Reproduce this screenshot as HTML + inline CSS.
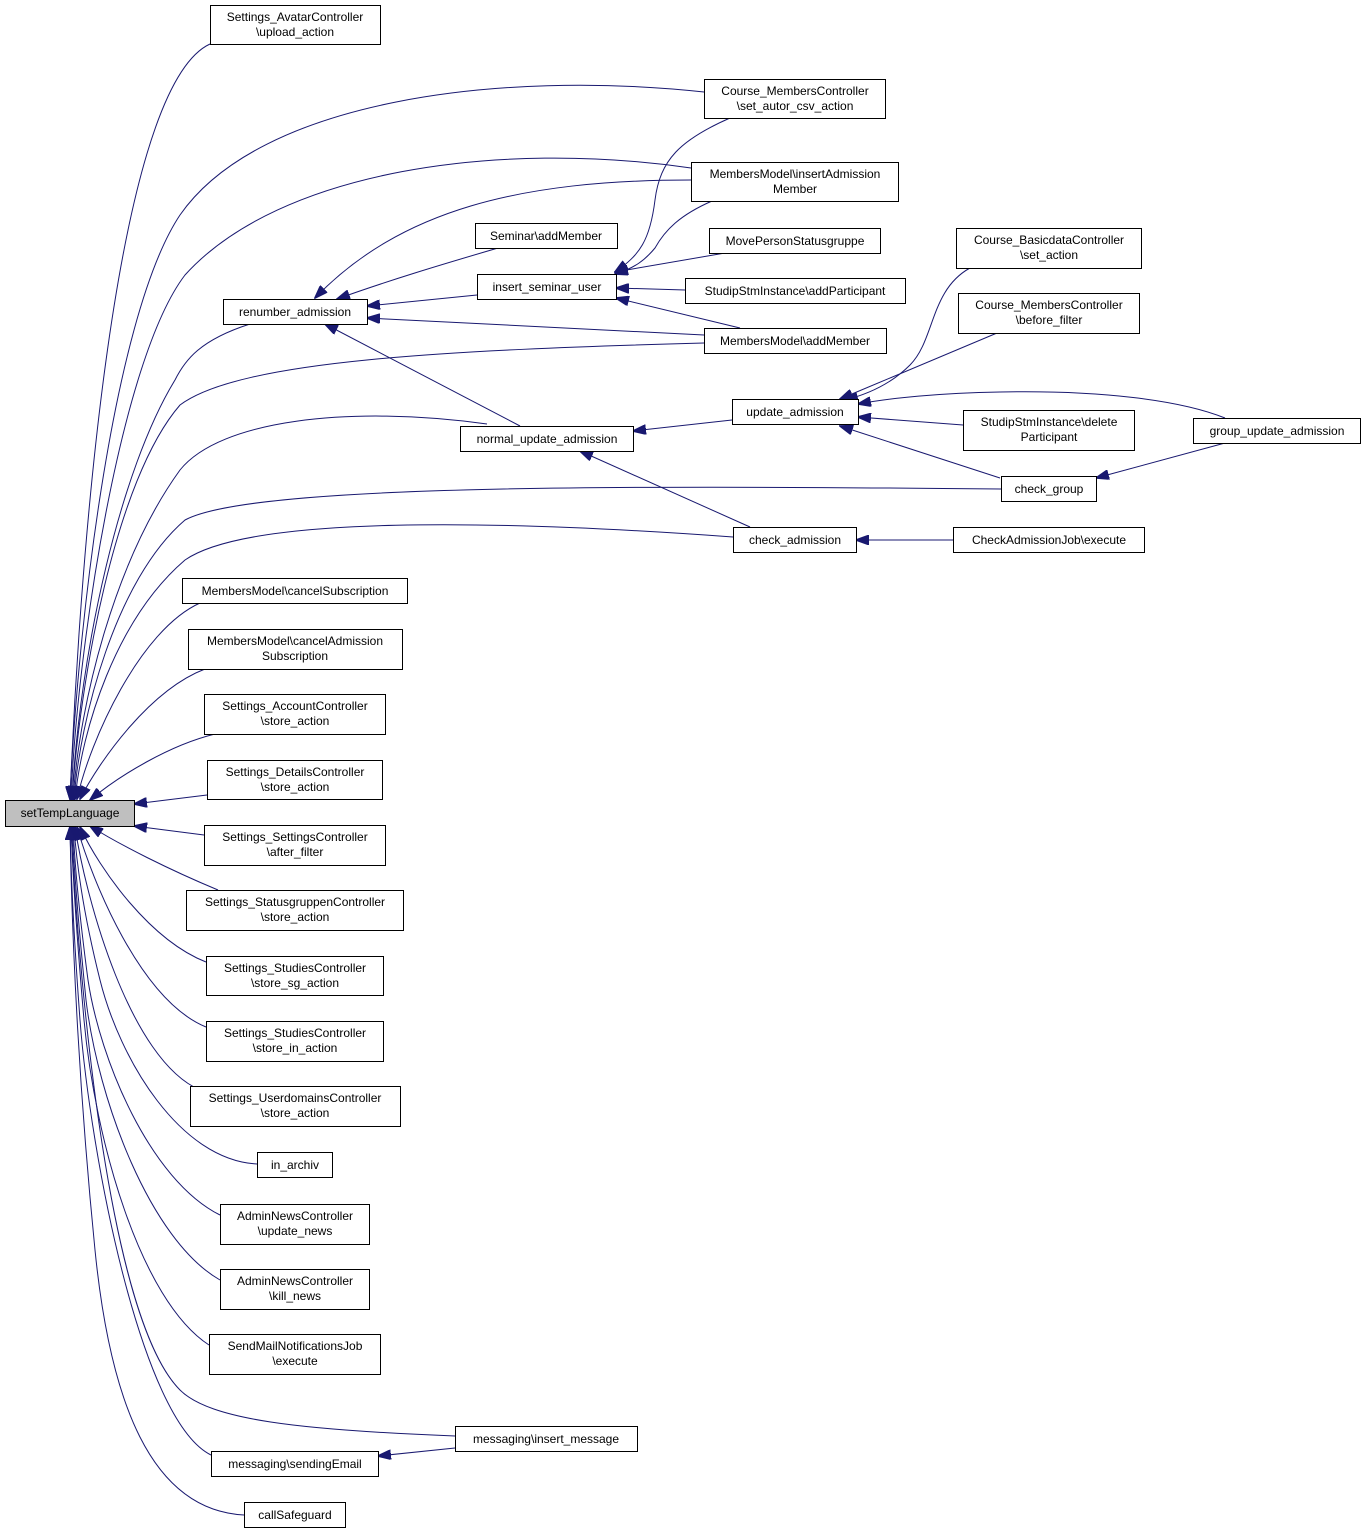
<!DOCTYPE html>
<html><head><meta charset="utf-8"><style>
html,body{margin:0;padding:0;background:#fff}
svg text{font-family:"Liberation Sans",sans-serif;font-size:12px;fill:#000}
rect.n{fill:#fff;stroke:#000;stroke-width:1}
path.e{fill:none;stroke:#191970;stroke-width:1}
</style></head><body>
<svg width="1365" height="1534" viewBox="0 0 1365 1534" xmlns="http://www.w3.org/2000/svg">
<defs><marker id="a" markerWidth="14" markerHeight="10" refX="13" refY="5" orient="auto" markerUnits="userSpaceOnUse"><path d="M0,0 L14,5 L0,10 z" fill="#191970" stroke="#191970"/></marker></defs>
<g>
<!-- edges to setTempLanguage top -->
<path class="e" marker-end="url(#a)" d="M210,44 C110,90 78,600 70,799"/>
<path class="e" marker-end="url(#a)" d="M704,92 C500,70 260,100 180,215 C110,320 76,650 70,799"/>
<path class="e" marker-end="url(#a)" d="M691,168 C500,140 280,170 185,275 C120,360 77,650 71,799"/>
<path class="e" marker-end="url(#a)" d="M250,324 C200,340 185,360 175,380 C120,470 80,650 72,799"/>
<path class="e" marker-end="url(#a)" d="M704,343 C450,350 240,360 180,405 C115,480 80,680 72,799"/>
<path class="e" marker-end="url(#a)" d="M487,424 C350,405 220,420 180,470 C115,560 80,700 73,799"/>
<path class="e" marker-end="url(#a)" d="M1001,489 C600,485 250,485 185,520 C115,580 80,720 74,799"/>
<path class="e" marker-end="url(#a)" d="M733,537 C500,520 250,515 185,560 C115,620 82,730 75,799"/>
<path class="e" marker-end="url(#a)" d="M200,603 C140,630 90,740 77,799"/>
<path class="e" marker-end="url(#a)" d="M205,669 C150,690 100,760 80,799"/>
<path class="e" marker-end="url(#a)" d="M215,734 C170,745 120,775 90,800"/>
<path class="e" marker-end="url(#a)" d="M207,795 L134,804"/>
<!-- below -->
<path class="e" marker-end="url(#a)" d="M204,835 L134,826"/>
<path class="e" marker-end="url(#a)" d="M218,890 C170,870 120,845 90,826"/>
<path class="e" marker-end="url(#a)" d="M206,962 C150,940 100,870 80,827"/>
<path class="e" marker-end="url(#a)" d="M206,1027 C140,1000 92,880 77,827"/>
<path class="e" marker-end="url(#a)" d="M200,1090 C130,1060 86,900 75,827"/>
<path class="e" marker-end="url(#a)" d="M257,1164 C180,1160 120,1060 100,980 C85,920 77,870 74,827"/>
<path class="e" marker-end="url(#a)" d="M220,1215 C150,1180 100,1060 88,980 C80,920 75,870 73,827"/>
<path class="e" marker-end="url(#a)" d="M220,1280 C150,1240 98,1100 86,1000 C79,930 74,870 72,827"/>
<path class="e" marker-end="url(#a)" d="M209,1345 C140,1300 95,1140 84,1020 C77,940 73,880 71,827"/>
<path class="e" marker-end="url(#a)" d="M455,1436 C300,1430 210,1420 180,1390 C110,1320 80,1000 71,827"/>
<path class="e" marker-end="url(#a)" d="M211,1455 C140,1420 90,1150 80,1020 C74,940 71,880 70,827"/>
<path class="e" marker-end="url(#a)" d="M244,1515 C150,1510 110,1400 95,1250 C80,1100 72,950 70,827"/>
<!-- internal -->
<path class="e" marker-end="url(#a)" d="M691,180 C520,180 400,210 315,298"/>
<path class="e" marker-end="url(#a)" d="M498,248 C440,265 390,280 337,299"/>
<path class="e" marker-end="url(#a)" d="M477,295 L367,306"/>
<path class="e" marker-end="url(#a)" d="M704,335 L367,318"/>
<path class="e" marker-end="url(#a)" d="M520,426 L325,324"/>
<path class="e" marker-end="url(#a)" d="M730,118 C680,140 660,160 655,200 C650,240 640,255 615,272"/>
<path class="e" marker-end="url(#a)" d="M712,201 C680,215 665,230 655,248 C645,260 635,268 615,274"/>
<path class="e" marker-end="url(#a)" d="M725,253 L615,272"/>
<path class="e" marker-end="url(#a)" d="M685,290 L616,288"/>
<path class="e" marker-end="url(#a)" d="M740,328 L616,298"/>
<path class="e" marker-end="url(#a)" d="M732,420 L633,431"/>
<path class="e" marker-end="url(#a)" d="M750,527 L580,451"/>
<path class="e" marker-end="url(#a)" d="M970,268 C930,290 935,340 910,365 C890,385 865,395 845,400"/>
<path class="e" marker-end="url(#a)" d="M997,333 L840,399"/>
<path class="e" marker-end="url(#a)" d="M963,425 L858,417"/>
<path class="e" marker-end="url(#a)" d="M1000,478 L840,426"/>
<path class="e" marker-end="url(#a)" d="M1225,418 C1180,400 1100,390 1000,392 C940,393 890,398 858,404"/>
<path class="e" marker-end="url(#a)" d="M1225,443 L1096,478"/>
<path class="e" marker-end="url(#a)" d="M953,540 L856,540"/>
<path class="e" marker-end="url(#a)" d="M455,1448 L378,1456"/>
</g>
<g>
<rect x="5.5" y="800.5" width="129" height="26" fill="#bfbfbf" stroke="#000"/>
<text x="70" y="817" text-anchor="middle">setTempLanguage</text>

<rect class="n" x="210.5" y="5.5" width="170" height="39"/><text x="295" y="21" text-anchor="middle">Settings_AvatarController</text><text x="295" y="36" text-anchor="middle">\upload_action</text>
<rect class="n" x="704.5" y="79.5" width="181" height="39"/><text x="795" y="95" text-anchor="middle">Course_MembersController</text><text x="795" y="110" text-anchor="middle">\set_autor_csv_action</text>
<rect class="n" x="691.5" y="162.5" width="207" height="39"/><text x="795" y="178" text-anchor="middle">MembersModel\insertAdmission</text><text x="795" y="193" text-anchor="middle">Member</text>
<rect class="n" x="475.5" y="223.5" width="142" height="25"/><text x="546" y="240" text-anchor="middle">Seminar\addMember</text>
<rect class="n" x="709.5" y="228.5" width="171" height="25"/><text x="795" y="245" text-anchor="middle">MovePersonStatusgruppe</text>
<rect class="n" x="477.5" y="274.5" width="139" height="25"/><text x="547" y="291" text-anchor="middle">insert_seminar_user</text>
<rect class="n" x="685.5" y="278.5" width="220" height="25"/><text x="795" y="295" text-anchor="middle">StudipStmInstance\addParticipant</text>
<rect class="n" x="223.5" y="299.5" width="144" height="25"/><text x="295" y="316" text-anchor="middle">renumber_admission</text>
<rect class="n" x="704.5" y="328.5" width="182" height="25"/><text x="795" y="345" text-anchor="middle">MembersModel\addMember</text>
<rect class="n" x="956.5" y="228.5" width="185" height="40"/><text x="1049" y="244" text-anchor="middle">Course_BasicdataController</text><text x="1049" y="259" text-anchor="middle">\set_action</text>
<rect class="n" x="958.5" y="293.5" width="181" height="40"/><text x="1049" y="309" text-anchor="middle">Course_MembersController</text><text x="1049" y="324" text-anchor="middle">\before_filter</text>
<rect class="n" x="732.5" y="399.5" width="126" height="25"/><text x="795" y="416" text-anchor="middle">update_admission</text>
<rect class="n" x="460.5" y="426.5" width="173" height="25"/><text x="547" y="443" text-anchor="middle">normal_update_admission</text>
<rect class="n" x="963.5" y="410.5" width="171" height="40"/><text x="1049" y="426" text-anchor="middle">StudipStmInstance\delete</text><text x="1049" y="441" text-anchor="middle">Participant</text>
<rect class="n" x="1193.5" y="418.5" width="167" height="25"/><text x="1277" y="435" text-anchor="middle">group_update_admission</text>
<rect class="n" x="1001.5" y="476.5" width="95" height="25"/><text x="1049" y="493" text-anchor="middle">check_group</text>
<rect class="n" x="733.5" y="527.5" width="123" height="25"/><text x="795" y="544" text-anchor="middle">check_admission</text>
<rect class="n" x="953.5" y="527.5" width="191" height="25"/><text x="1049" y="544" text-anchor="middle">CheckAdmissionJob\execute</text>
<rect class="n" x="182.5" y="578.5" width="225" height="25"/><text x="295" y="595" text-anchor="middle">MembersModel\cancelSubscription</text>
<rect class="n" x="188.5" y="629.5" width="214" height="40"/><text x="295" y="645" text-anchor="middle">MembersModel\cancelAdmission</text><text x="295" y="660" text-anchor="middle">Subscription</text>
<rect class="n" x="204.5" y="694.5" width="181" height="40"/><text x="295" y="710" text-anchor="middle">Settings_AccountController</text><text x="295" y="725" text-anchor="middle">\store_action</text>
<rect class="n" x="207.5" y="760.5" width="175" height="39"/><text x="295" y="776" text-anchor="middle">Settings_DetailsController</text><text x="295" y="791" text-anchor="middle">\store_action</text>
<rect class="n" x="204.5" y="825.5" width="181" height="40"/><text x="295" y="841" text-anchor="middle">Settings_SettingsController</text><text x="295" y="856" text-anchor="middle">\after_filter</text>
<rect class="n" x="186.5" y="890.5" width="217" height="40"/><text x="295" y="906" text-anchor="middle">Settings_StatusgruppenController</text><text x="295" y="921" text-anchor="middle">\store_action</text>
<rect class="n" x="206.5" y="956.5" width="177" height="39"/><text x="295" y="972" text-anchor="middle">Settings_StudiesController</text><text x="295" y="987" text-anchor="middle">\store_sg_action</text>
<rect class="n" x="206.5" y="1021.5" width="177" height="40"/><text x="295" y="1037" text-anchor="middle">Settings_StudiesController</text><text x="295" y="1052" text-anchor="middle">\store_in_action</text>
<rect class="n" x="190.5" y="1086.5" width="210" height="40"/><text x="295" y="1102" text-anchor="middle">Settings_UserdomainsController</text><text x="295" y="1117" text-anchor="middle">\store_action</text>
<rect class="n" x="257.5" y="1152.5" width="75" height="25"/><text x="295" y="1169" text-anchor="middle">in_archiv</text>
<rect class="n" x="220.5" y="1204.5" width="149" height="40"/><text x="295" y="1220" text-anchor="middle">AdminNewsController</text><text x="295" y="1235" text-anchor="middle">\update_news</text>
<rect class="n" x="220.5" y="1269.5" width="149" height="40"/><text x="295" y="1285" text-anchor="middle">AdminNewsController</text><text x="295" y="1300" text-anchor="middle">\kill_news</text>
<rect class="n" x="209.5" y="1334.5" width="171" height="40"/><text x="295" y="1350" text-anchor="middle">SendMailNotificationsJob</text><text x="295" y="1365" text-anchor="middle">\execute</text>
<rect class="n" x="455.5" y="1426.5" width="182" height="25"/><text x="546" y="1443" text-anchor="middle">messaging\insert_message</text>
<rect class="n" x="211.5" y="1451.5" width="167" height="25"/><text x="295" y="1468" text-anchor="middle">messaging\sendingEmail</text>
<rect class="n" x="244.5" y="1502.5" width="101" height="25"/><text x="295" y="1519" text-anchor="middle">callSafeguard</text>
</g>
</svg>
</body></html>
